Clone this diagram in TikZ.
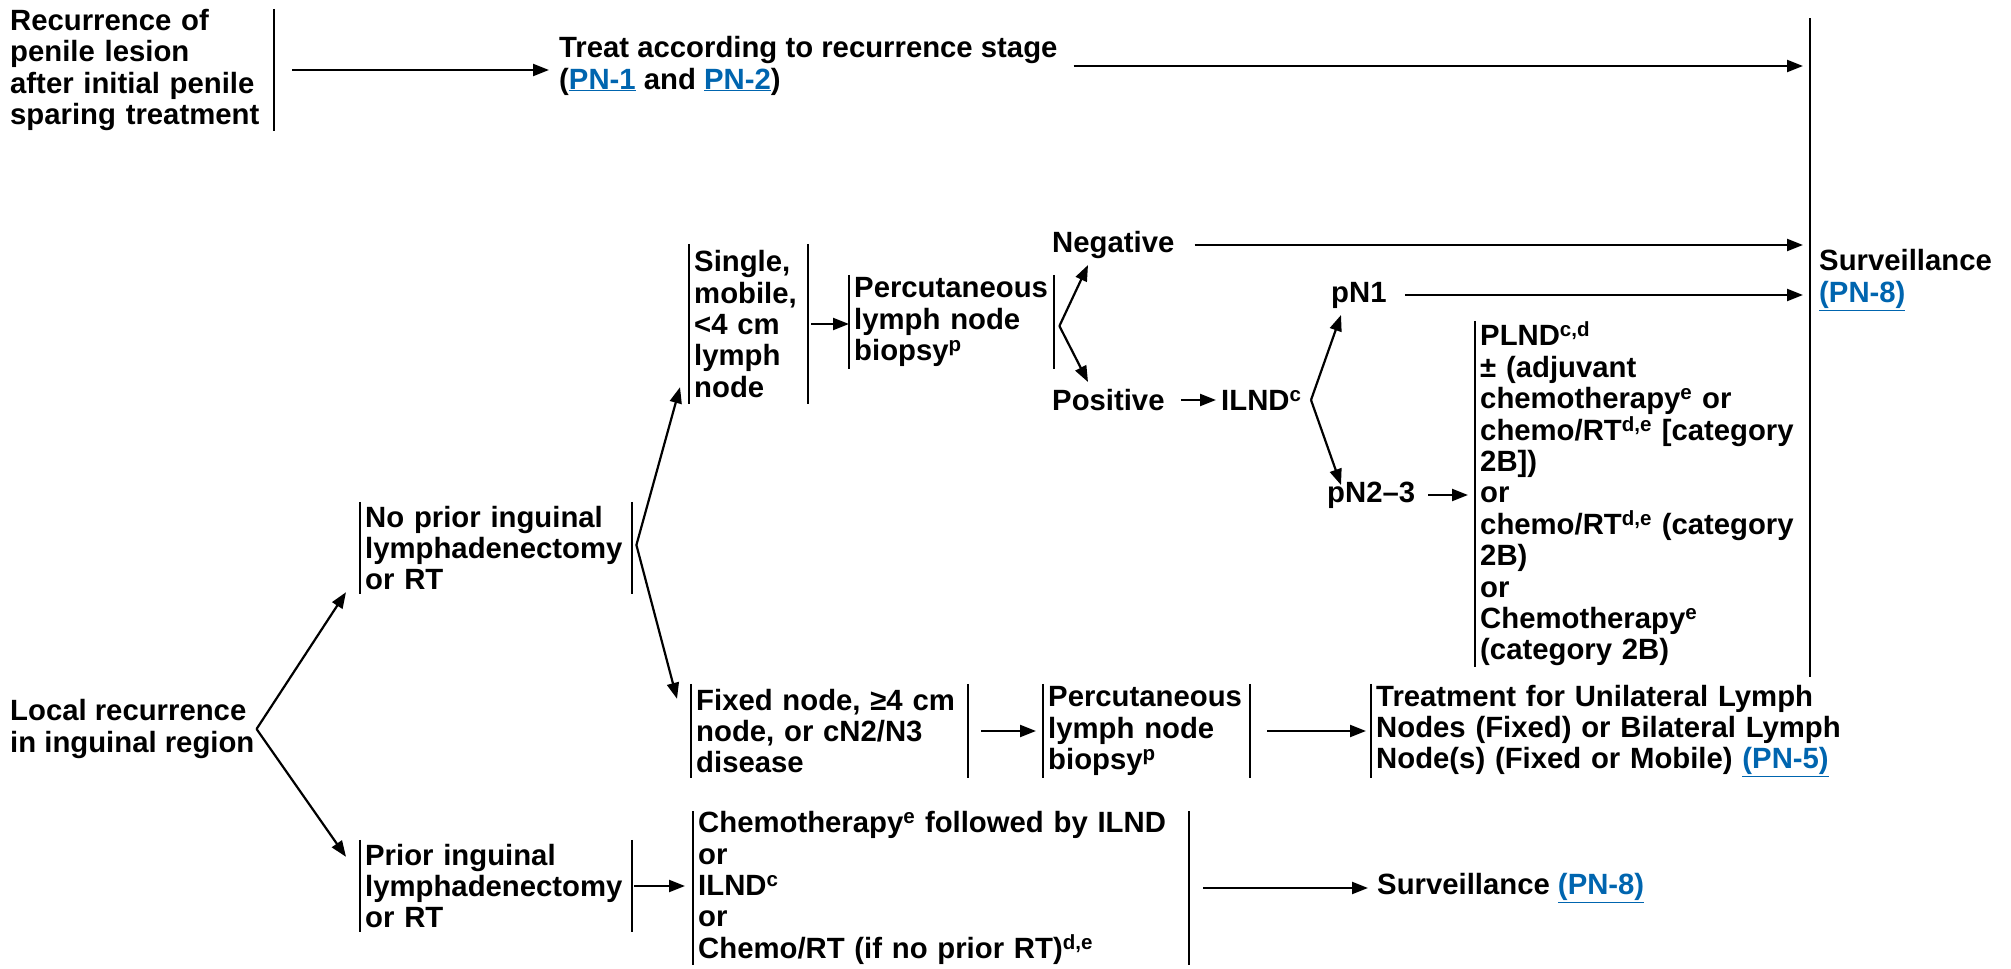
\documentclass[tikz,border=0pt]{standalone}
\usepackage{fontspec}
\setmainfont{Liberation Sans}
\usetikzlibrary{arrows.meta,calc}
\definecolor{lnkblue}{RGB}{0,101,175}
\newcommand{\lnk}[1]{{\color{lnkblue}\underline{#1}}}
\begin{document}
\begin{tikzpicture}[x=1pt,y=-1pt,
  font=\fontsize{29.3}{31.4}\selectfont\bfseries,
  txt/.style={inner sep=0pt, anchor=west, align=left},
  box/.style={inner xsep=5pt, inner ysep=0pt, anchor=west, align=left},
  bar/.style={line width=2pt},
  arr/.style={line width=2.2pt, -{Triangle[length=16pt,width=12pt]}}]
\useasboundingbox (0,0) rectangle (2011,969);

% top row
\node[txt, text width=264pt, minimum height=122pt] (rec) at (10,70)
  {Recurrence of\\penile lesion\\after initial penile\\sparing treatment};
\draw[bar] (rec.north east) -- (rec.south east);
\node[txt] (treat) at (559,66) {Treat according to recurrence stage\\(\lnk{PN-1} and \lnk{PN-2})};
\coordinate (vt) at (1810,18);
\coordinate (vb) at (1810,677);
\draw[bar] (vt) -- (vb);
\node[txt] (surv1) at (1819,280) {Surveillance\\\lnk{(PN-8)}};
\draw[arr, shorten <=18pt, shorten >=10pt] (rec.east) -- (rec.east -| treat.west);
\draw[arr, shorten <=16pt, shorten >=7pt] (treat.east) -- (treat.east -| vt);

% left
\node[txt] (local) at (10,729) {Local recurrence\\in inguinal region};
\node[box, text width=262pt, minimum height=92pt] (noprior) at (360,548)
  {No prior inguinal\\lymphadenectomy\\or RT};
\draw[bar] (noprior.north west) -- (noprior.south west);
\draw[bar] (noprior.north east) -- (noprior.south east);
\node[box, text width=262pt, minimum height=92pt] (prior) at (360,886)
  {Prior inguinal\\lymphadenectomy\\or RT};
\draw[bar] (prior.north west) -- (prior.south west);
\draw[bar] (prior.north east) -- (prior.south east);
\coordinate (lb) at ([shift={(2,0)}]local.east);
\draw[arr] (lb) -- ([shift={(-14,-2)}]noprior.south west);
\draw[arr] (lb) -- ([shift={(-14,17)}]prior.north west);

% single mobile branch
\node[box, text width=109pt, minimum height=160pt] (single) at (689,324)
  {Single,\\mobile,\\<4 cm\\lymph\\node};
\draw[bar] (single.north west) -- (single.south west);
\draw[bar] (single.north east) -- (single.south east);
\node[box, text width=195pt, minimum height=94pt] (perc1) at (849,322)
  {Percutaneous\\lymph node\\biopsy\textsuperscript{p}};
\draw[bar] (perc1.north west) -- (perc1.south west);
\draw[bar] (perc1.north east) -- (perc1.south east);
\draw[arr, shorten <=3pt] (single.east) -- (single.east -| perc1.west);

\coordinate (nb) at ([shift={(4,-3)}]noprior.east);
\draw[arr] (nb) -- ([shift={(-9,-17)}]single.south west);

\node[txt] (neg) at (1052,245) {Negative};
\node[txt] (pos) at (1052,400) {Positive};
\coordinate (pb) at ([shift={(5,4)}]perc1.east);
\draw[arr] (pb) -- ([shift={(36,20)}]neg.west);
\draw[arr] (pb) -- ([shift={(36,-18)}]pos.west);
\draw[arr, shorten <=20pt, shorten >=7pt] (neg.east) -- (neg.east -| vt);

\node[txt] (ilnd) at (1221,400) {ILND\textsuperscript{c}};
\draw[arr, shorten <=16pt, shorten >=5pt] (pos.east) -- (pos.east -| ilnd.west);
\node[txt] (pn1) at (1331,295) {pN1};
\node[txt] (pn2) at (1327,495) {pN2--3};
\coordinate (ib) at ([shift={(90,0)}]ilnd.west);
\draw[arr] (ib) -- ([shift={(10,20)}]pn1.west);
\draw[arr] (ib) -- ([shift={(14,-10)}]pn2.west);
\draw[arr, shorten <=18pt, shorten >=7pt] (pn1.east) -- (pn1.east -| vt);

\node[box, text width=330pt, minimum height=346pt] (plnd) at (1475,494)
  {PLND\textsuperscript{c,d}\\{\char"00B1} (adjuvant\\chemotherapy\textsuperscript{e} or\\chemo/RT\textsuperscript{d,e} [category\\2B])\\or\\chemo/RT\textsuperscript{d,e} (category\\2B)\\or\\Chemotherapy\textsuperscript{e}\\(category 2B)};
\draw[bar] (plnd.north west) -- (plnd.south west);
\draw[arr, shorten <=13pt, shorten >=7pt] (pn2.east) -- (pn2.east -| plnd.west);

% fixed node branch
\node[box, text width=267pt, minimum height=94pt] (fixed) at (691,731)
  {Fixed node, {\char"2265}4 cm\\node, or cN2/N3\\disease};
\draw[bar] (fixed.north west) -- (fixed.south west);
\draw[bar] (fixed.north east) -- (fixed.south east);
\draw[arr] (nb) -- ([shift={(-14,15)}]fixed.north west);
\node[box, text width=197pt, minimum height=94pt] (perc2) at (1043,731)
  {Percutaneous\\lymph node\\biopsy\textsuperscript{p}};
\draw[bar] (perc2.north west) -- (perc2.south west);
\draw[bar] (perc2.north east) -- (perc2.south east);
\draw[arr, shorten <=13pt, shorten >=7pt] (fixed.east) -- (fixed.east -| perc2.west);
\node[box, text width=520pt, minimum height=94pt] (treatln) at (1371,731)
  {Treatment for Unilateral Lymph\\Nodes (Fixed) or Bilateral Lymph\\Node(s) (Fixed or Mobile) \lnk{(PN-5)}};
\draw[bar] (treatln.north west) -- (treatln.south west);
\draw[arr, shorten <=17pt, shorten >=5pt] (perc2.east) -- (perc2.east -| treatln.west);

% prior branch
\node[box, text width=486pt, minimum height=153pt] (chemo) at (693,888)
  {Chemotherapy\textsuperscript{e} followed by ILND\\or\\ILND\textsuperscript{c}\\or\\Chemo/RT (if no prior RT)\textsuperscript{d,e}};
\draw[bar] (chemo.north west) -- (chemo.south west);
\draw[bar] (chemo.north east) -- (chemo.south east);
\draw[arr, shorten <=2pt, shorten >=8pt] (prior.east) -- (prior.east -| chemo.west);
\node[txt] (surv2) at (1377,888) {Surveillance \lnk{(PN-8)}};
\draw[arr, shorten <=14pt, shorten >=9pt] (chemo.east) -- (chemo.east -| surv2.west);
\end{tikzpicture}
\end{document}
